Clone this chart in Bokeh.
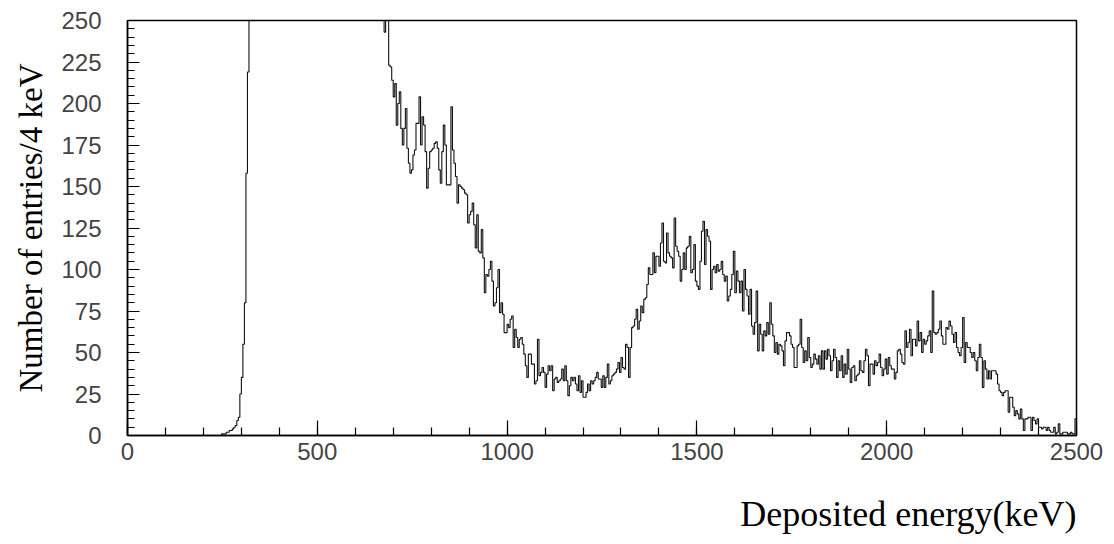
import math
from bokeh.plotting import figure
from bokeh.models import Range1d, SingleIntervalTicker, Title
from bokeh.embed import file_html
from bokeh.resources import INLINE

# ---------------- data (entries per 4 keV bin) ----------------
bin_width_kev = 4
energy_max_kev = 2500

# 0 - 248 keV : empty
counts_0_248 = [0, 0, 0, 0, 0, 0, 0, 0, 0, 0,
                0, 0, 0, 0, 0, 0, 0, 0, 0, 0,
                0, 0, 0, 0, 0, 0, 0, 0, 0, 0,
                0, 0, 0, 0, 0, 0, 0, 0, 0, 0,
                0, 0, 0, 0, 0, 0, 0, 0, 0, 0,
                0, 0, 0, 0, 0, 0, 0, 0, 0, 0,
                0, 0]
# 248 - 320 keV : threshold rise
counts_248_320 = [1, 1, 1, 2, 2, 3, 3, 4, 5, 6, 9, 11, 25, 35, 55, 80, 158, 219]
# 320 - 676 keV : off scale (above 250)
counts_320_676 = [290, 360, 430, 500, 560, 610, 650, 680, 700, 710,
                  715, 712, 705, 695, 685, 672, 660, 648, 636, 624,
                  612, 600, 590, 580, 570, 560, 552, 545, 538, 530,
                  522, 515, 508, 500, 492, 485, 478, 470, 462, 455,
                  448, 441, 435, 430, 426, 424, 430, 440, 452, 460,
                  465, 462, 455, 445, 432, 418, 405, 393, 382, 372,
                  362, 353, 345, 338, 331, 324, 318, 312, 306, 300,
                  295, 290, 286, 282, 278, 274, 270, 267, 264, 262,
                  260, 258, 257, 256, 255, 255, 254, 253, 252]
# 676 - 864 keV
counts_676_864 = [243, 262, 256, 223, 222, 214, 204, 212, 187, 200,
                  207, 185, 175, 185, 197, 173, 164, 158, 160, 169,
                  172, 188, 188, 204, 175, 192, 187, 171, 149, 161,
                  171, 172, 173, 176, 177, 173, 160, 152, 171, 187,
                  175, 151, 151, 151, 198, 172, 164]
# 864 - 1100 keV
counts_864_1100 = [156, 140, 151, 150, 149, 148, 146, 145, 128, 133,
                   135, 140, 127, 113, 133, 111, 110, 124, 107, 86,
                   97, 96, 100, 105, 93, 78, 80, 89, 100, 74,
                   80, 73, 62, 62, 67, 65, 70, 72, 53, 64,
                   59, 53, 58, 59, 55, 49, 42, 35, 49, 49,
                   43, 43, 31, 33, 58, 36, 38, 41, 38]
# 1100 - 1300 keV
counts_1100_1300 = [29, 37, 42, 39, 42, 27, 34, 35, 32, 33,
                    34, 40, 33, 42, 33, 24, 30, 35, 33, 35,
                    31, 27, 36, 26, 33, 23, 23, 26, 31, 27,
                    33, 31, 33, 35, 38, 34, 34, 29, 36, 29,
                    35, 43, 31, 33, 36, 37, 38, 40, 44, 38]
# 1300 - 1720 keV
counts_1300_1720 = [47, 41, 40, 55, 53, 35, 53, 65, 66, 70,
                    76, 64, 69, 78, 74, 82, 83, 91, 101, 97,
                    97, 110, 98, 108, 108, 102, 116, 128, 105, 104,
                    122, 110, 108, 107, 101, 131, 114, 111, 108, 93,
                    100, 110, 100, 113, 114, 120, 98, 100, 115, 93,
                    90, 88, 105, 123, 129, 103, 124, 120, 117, 88,
                    100, 102, 98, 103, 99, 100, 105, 97, 93, 96,
                    81, 84, 88, 97, 111, 86, 99, 93, 86, 93,
                    75, 100, 88, 84, 73, 88, 66, 61, 68, 87,
                    51, 67, 61, 51, 63, 60, 68, 61, 80, 67,
                    60, 50, 56, 49, 55]
# 1720 - 2028 keV
counts_1720_2028 = [54, 51, 42, 57, 62, 62, 60, 55, 53, 41,
                    41, 54, 55, 70, 53, 44, 51, 45, 59, 47,
                    41, 43, 49, 46, 43, 48, 40, 51, 40, 51,
                    46, 52, 48, 39, 45, 52, 47, 35, 45, 39,
                    48, 35, 43, 37, 52, 40, 32, 41, 42, 33,
                    36, 37, 45, 39, 38, 45, 52, 48, 30, 43,
                    43, 37, 45, 42, 44, 49, 41, 36, 40, 46,
                    37, 47, 42, 40, 40, 34, 38]
# 2028 - 2300 keV
counts_2028_2300 = [51, 52, 49, 44, 43, 63, 53, 56, 64, 48,
                    58, 58, 54, 69, 57, 62, 50, 58, 55, 57,
                    60, 63, 50, 87, 62, 61, 62, 64, 69, 60,
                    55, 55, 65, 64, 69, 66, 61, 56, 62, 53,
                    50, 48, 53, 71, 44, 56, 53, 53, 50, 47,
                    50, 45, 39, 47, 55, 47, 29, 45, 40, 34,
                    39, 34, 39, 39, 39, 37, 31, 27]
# 2300 - 2500 keV
counts_2300_2500 = [26, 24, 26, 27, 27, 14, 23, 23, 17, 12,
                    15, 13, 10, 16, 10, 3, 10, 10, 11, 11,
                    3, 11, 9, 7, 10, 5, 5, 4, 5, 5,
                    3, 5, 3, 2, 2, 5, 1, 2, 7, 1,
                    1, 2, 2, 2, 1, 1, 2, 1, 1, 10]

segment_starts_kev = [0, 248, 320, 676, 864, 1100, 1300, 1720, 2028, 2300]
segment_counts = [counts_0_248, counts_248_320, counts_320_676, counts_676_864,
                  counts_864_1100, counts_1100_1300, counts_1300_1720,
                  counts_1720_2028, counts_2028_2300, counts_2300_2500]

x_ticks_major = 500
y_ticks_major = 25
x_label_text = "Deposited energy(keV)"
y_label_text = "Number of entries/4 keV"

# ---------------- build histogram edges ----------------
edges, values = [], []
for k, (start, seg) in enumerate(zip(segment_starts_kev, segment_counts)):
    stop = segment_starts_kev[k + 1] if k + 1 < len(segment_starts_kev) else energy_max_kev
    for i, v in enumerate(seg):
        e = start + bin_width_kev * i
        if e >= stop:
            break
        edges.append(e)
        values.append(v)
xs = edges + [energy_max_kev]
ys = values + [values[-1]]

# ---------------- figure ----------------
p = figure(width=1114, height=544,
           x_range=Range1d(0, energy_max_kev), y_range=Range1d(0, 250),
           output_backend="svg", toolbar_location=None,
           min_border_left=127, min_border_right=38,
           min_border_top=20, min_border_bottom=109)
p.background_fill_color = "white"
p.border_fill_color = "white"
p.grid.visible = False
p.outline_line_color = "black"
p.outline_line_width = 1.5
p.outline_line_alpha = 1.0

p.step(xs, ys, mode="after", line_color="#111111", line_width=1.1)

tick_font = "Liberation Sans"
for ax in (p.xaxis[0], p.yaxis[0]):
    ax.axis_line_color = "black"
    ax.axis_line_width = 1.5
    ax.major_tick_line_color = "black"
    ax.minor_tick_line_color = "black"
    ax.major_tick_line_width = 1.2
    ax.minor_tick_line_width = 1.2
    ax.major_tick_out = 0
    ax.minor_tick_out = 0
    ax.major_label_text_font = tick_font
    ax.major_label_text_font_size = "24px"
    ax.major_label_text_color = "#444444"

p.xaxis.ticker = SingleIntervalTicker(interval=x_ticks_major, num_minor_ticks=5)
p.yaxis.ticker = SingleIntervalTicker(interval=y_ticks_major, num_minor_ticks=5)
p.xaxis.major_tick_in = 15
p.xaxis.minor_tick_in = 8
p.yaxis.major_tick_in = 12
p.yaxis.minor_tick_in = 7
p.xaxis.major_label_standoff = 7
p.yaxis.major_label_standoff = 26

ytitle = Title(text=y_label_text, align="center",
               text_font="Liberation Serif", text_font_size="33px",
               text_font_style="normal", text_color="black", standoff=20)
spacer = Title(text=" ", text_font_size="10px", standoff=14)
xtitle = Title(text=x_label_text, align="right",
               text_font="Liberation Serif", text_font_size="36px",
               text_font_style="normal", text_color="black", standoff=4)
p.add_layout(ytitle, "left")
p.add_layout(spacer, "below")
p.add_layout(xtitle, "below")

open("out.html", "w").write(file_html(p, INLINE))
